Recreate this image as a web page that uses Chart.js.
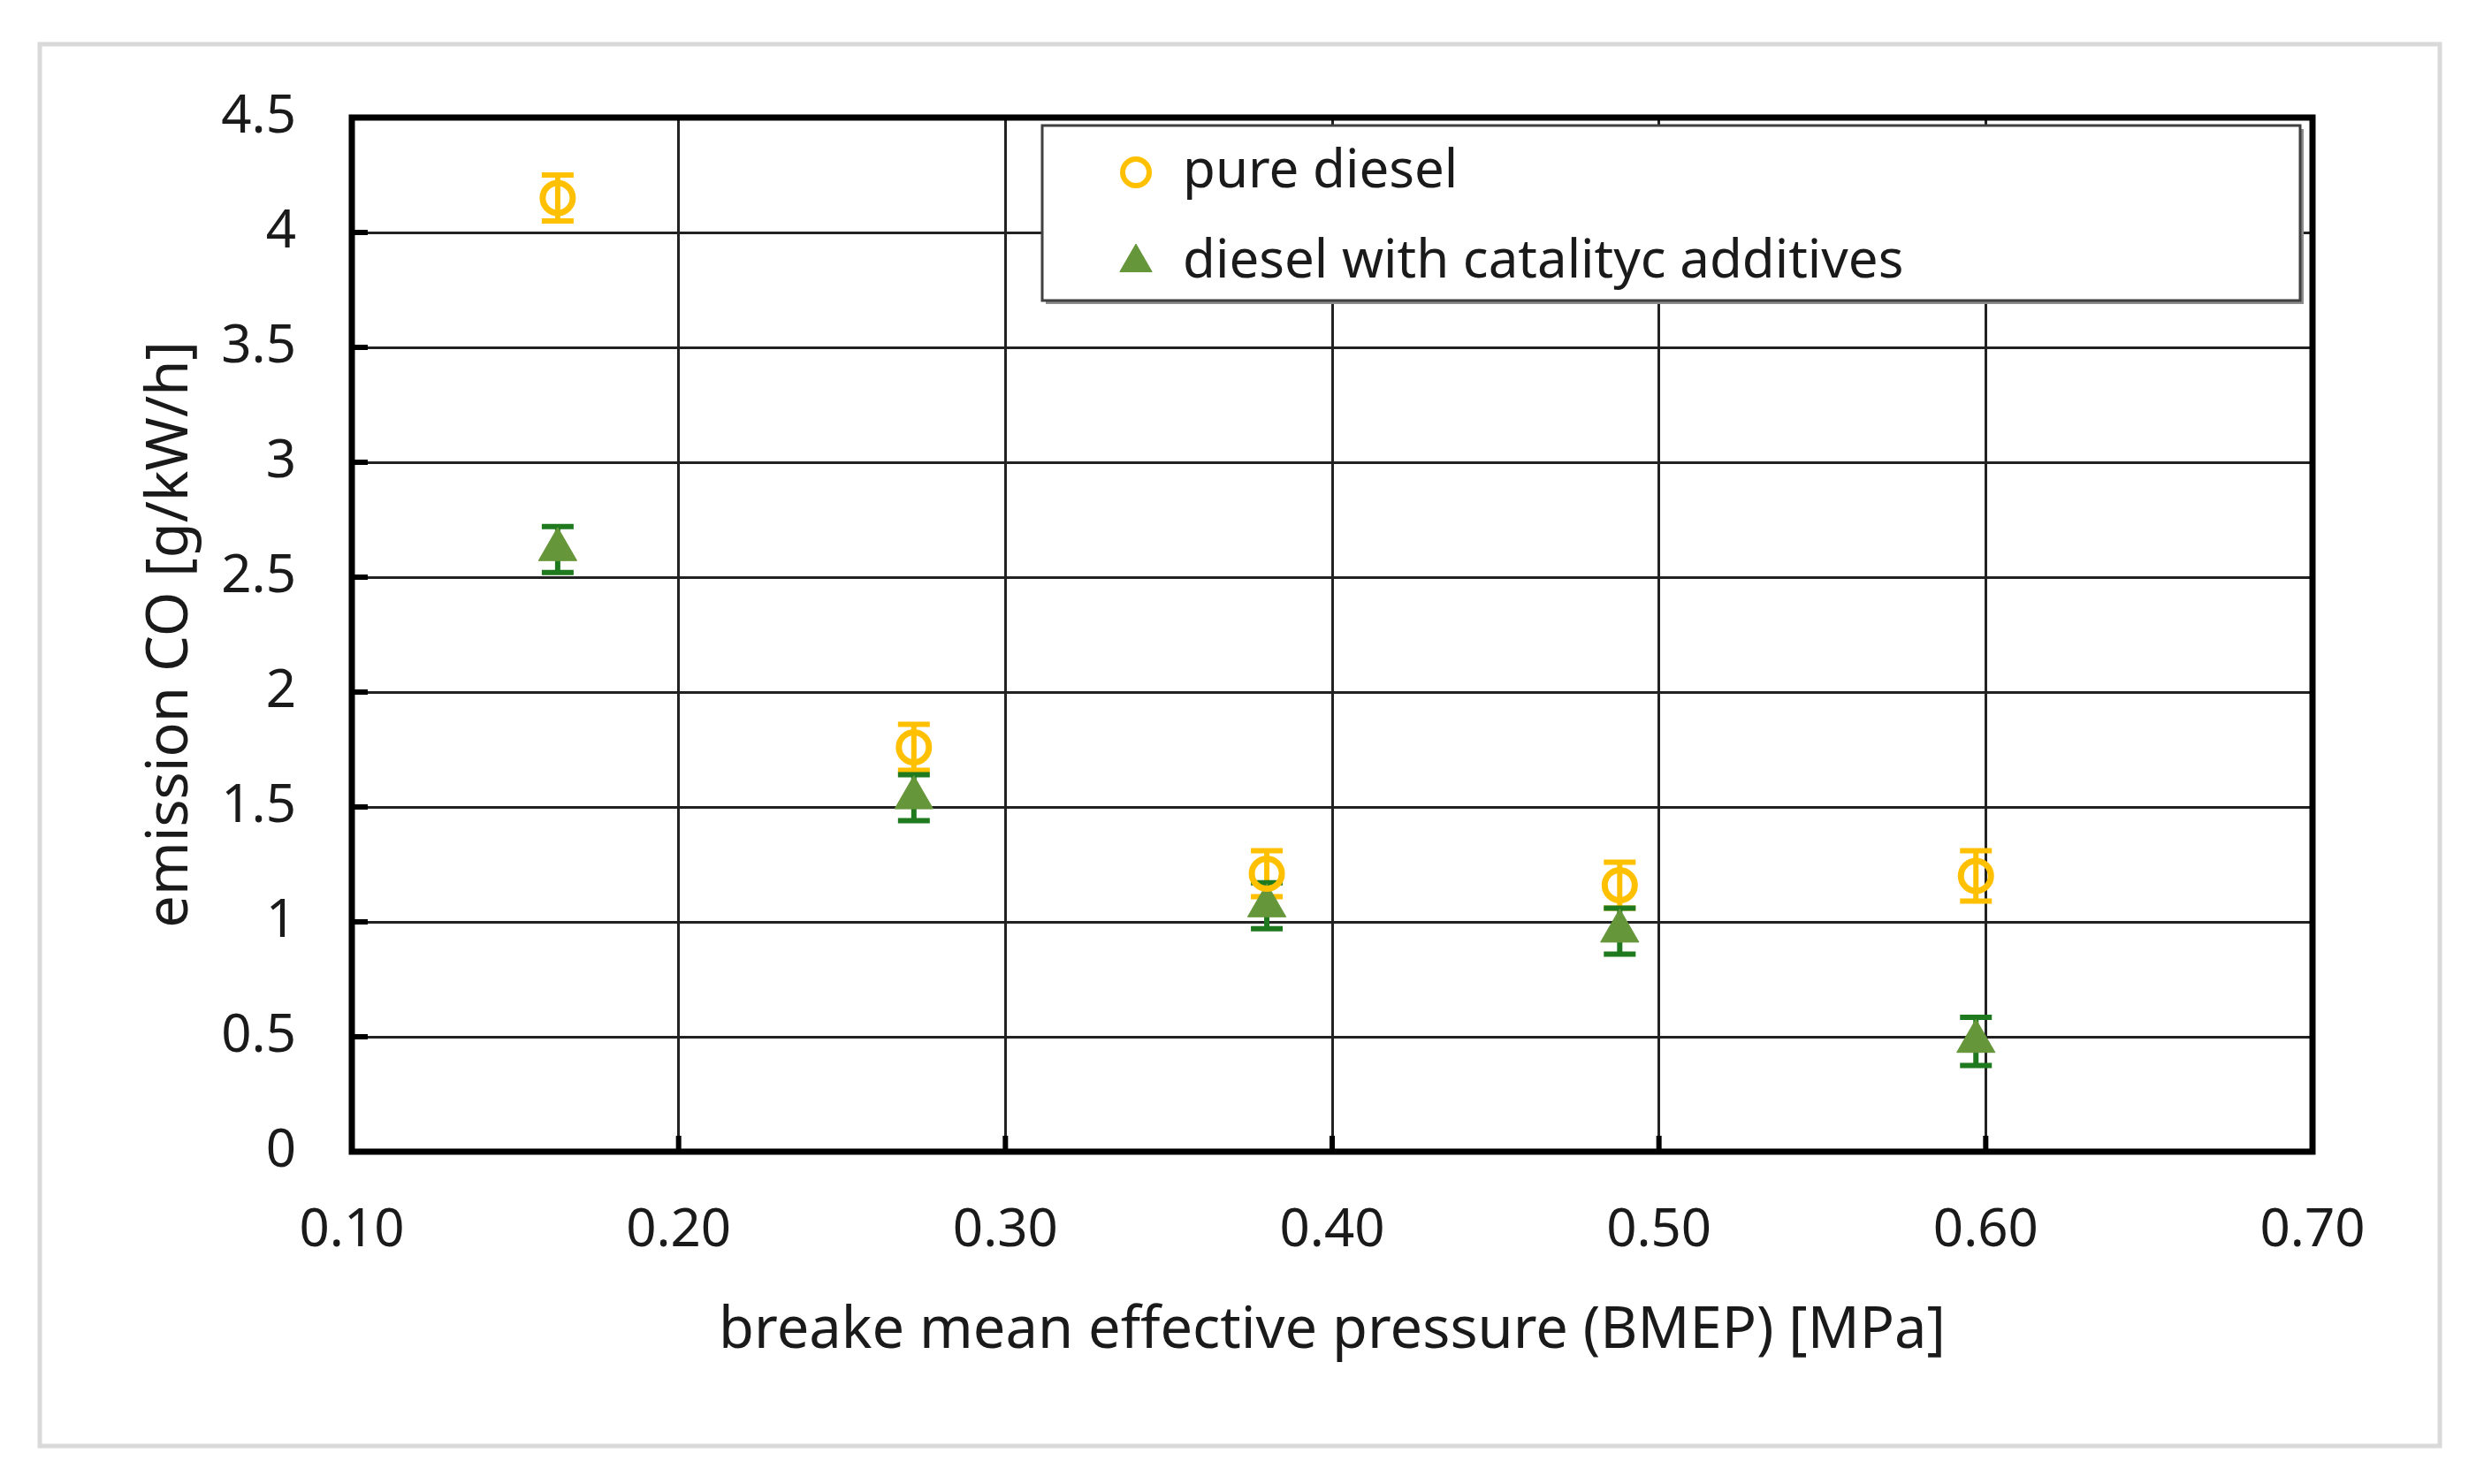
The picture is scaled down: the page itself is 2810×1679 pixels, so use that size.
<!DOCTYPE html>
<html>
<head>
<meta charset="utf-8">
<title>emission CO vs BMEP</title>
<script src="https://cdn.jsdelivr.net/npm/chart.js@4.4.1/dist/chart.umd.min.js"></script>
<style>
  html, body { margin: 0; padding: 0; background: #fff; }
  #wrap { position: relative; width: 2810px; height: 1679px; }
</style>
</head>
<body>
<div id="wrap"><canvas id="chart" width="2810" height="1679"></canvas></div>
<script>
// values
const bmep = [0.163, 0.272, 0.380, 0.488, 0.597];
const pureDiesel = [4.15, 1.76, 1.21, 1.16, 1.20];
const pureDieselErr = [0.10, 0.10, 0.10, 0.10, 0.11];
const withAdditives = [2.62, 1.54, 1.07, 0.96, 0.48];
const withAdditivesErr = [0.10, 0.10, 0.10, 0.10, 0.105];

const seriesLabels = ['pure diesel', 'diesel with catalityc additives'];
const xTitle = 'breake mean effective pressure (BMEP) [MPa]';
const yTitle = 'emission CO [g/kW/h]';

const FONT = '"Noto Sans", "Open Sans", sans-serif';
const TEXT = '#1a1a1a';
const YELLOW = '#FFC000';
const GREEN = '#66963A';
const GREEN_DARK = '#1F7A1F';

const toPoints = (xs, ys) => xs.map((x, i) => ({ x, y: ys[i] }));

/**
 * light grey frame round the whole figure
 */
const framePlugin = {
  id: 'frame',
  beforeDraw (chart) {
    const { ctx } = chart;
    ctx.save();
    ctx.strokeStyle = '#d9d9d9';
    ctx.lineWidth = 5;
    ctx.strokeRect(45, 50, 2715, 1586);
    ctx.restore();
  }
};

/**
 * vertical error bars, drawn under the markers
 */
const errorBarPlugin = {
  id: 'errorBars',
  beforeDatasetsDraw (chart) {
    const { ctx } = chart;
    const yScale = chart.scales.y;
    chart.data.datasets.forEach((ds, di) => {
      const meta = chart.getDatasetMeta(di);
      ctx.save();
      ctx.strokeStyle = ds.errorColor;
      ctx.lineWidth = 6;
      meta.data.forEach((el, i) => {
        const v = ds.data[i].y;
        const e = ds.errors[i];
        const top = yScale.getPixelForValue(v + e);
        const bot = yScale.getPixelForValue(v - e);
        ctx.beginPath();
        ctx.moveTo(el.x, top);
        ctx.lineTo(el.x, bot);
        ctx.moveTo(el.x - 18, top);
        ctx.lineTo(el.x + 18, top);
        ctx.moveTo(el.x - 18, bot);
        ctx.lineTo(el.x + 18, bot);
        ctx.stroke();
      });
      ctx.restore();
    });
  }
};

/**
 * heavy plot border plus the small inner tick stubs
 */
const plotBorderPlugin = {
  id: 'plotBorder',
  afterDatasetsDraw (chart) {
    const { ctx, chartArea: a, scales } = chart;
    ctx.save();
    ctx.strokeStyle = '#000';
    ctx.lineWidth = 6;
    scales.y.ticks.forEach(t => {
      const py = scales.y.getPixelForValue(t.value);
      ctx.beginPath();
      ctx.moveTo(a.left, py);
      ctx.lineTo(a.left + 18, py);
      ctx.stroke();
    });
    scales.x.ticks.forEach(t => {
      const px = scales.x.getPixelForValue(t.value);
      ctx.beginPath();
      ctx.moveTo(px, a.bottom);
      ctx.lineTo(px, a.bottom - 18);
      ctx.stroke();
    });
    ctx.lineWidth = 7;
    ctx.strokeRect(a.left, a.top, a.right - a.left, a.bottom - a.top);
    ctx.restore();
  }
};

/**
 * boxed legend in the upper right of the plot
 */
const legendBoxPlugin = {
  id: 'legendBox',
  afterDraw (chart) {
    const { ctx } = chart;
    const box = { x: 1179, y: 142, w: 1423, h: 198 };
    ctx.save();
    ctx.fillStyle = '#8c8c8c';
    ctx.fillRect(box.x + 4, box.y + 4, box.w, box.h);
    ctx.fillStyle = '#fff';
    ctx.fillRect(box.x, box.y, box.w, box.h);
    ctx.strokeStyle = '#404040';
    ctx.lineWidth = 3;
    ctx.strokeRect(box.x, box.y, box.w, box.h);

    const rows = [195, 297];
    const markers = [
      { pointStyle: 'circle', radius: 15, borderWidth: 6, fill: 'rgba(0,0,0,0)', stroke: YELLOW },
      { pointStyle: 'triangle', radius: 21, borderWidth: 1, fill: GREEN, stroke: GREEN }
    ];
    chart.data.datasets.forEach((ds, i) => {
      const m = markers[i];
      ctx.fillStyle = m.fill;
      ctx.strokeStyle = m.stroke;
      ctx.lineWidth = m.borderWidth;
      Chart.helpers.drawPoint(ctx, { pointStyle: m.pointStyle, radius: m.radius, rotation: 0, borderWidth: m.borderWidth }, 1285, rows[i]);
      ctx.fillStyle = TEXT;
      ctx.font = '60px ' + FONT;
      ctx.textBaseline = 'middle';
      ctx.textAlign = 'left';
      ctx.fillText(ds.label, 1338, rows[i]);
    });
    ctx.restore();
  }
};

const chart = new Chart(document.getElementById('chart'), {
  type: 'scatter',
  data: {
    datasets: [
      {
        label: seriesLabels[0],
        data: toPoints(bmep, pureDiesel),
        errors: pureDieselErr,
        errorColor: YELLOW,
        pointStyle: 'circle',
        pointRadius: 17,
        borderWidth: 7,
        borderColor: YELLOW,
        backgroundColor: 'rgba(0,0,0,0)'
      },
      {
        label: seriesLabels[1],
        data: toPoints(bmep, withAdditives),
        errors: withAdditivesErr,
        errorColor: GREEN_DARK,
        pointStyle: 'triangle',
        pointRadius: 25,
        borderWidth: 1,
        borderColor: GREEN,
        backgroundColor: GREEN
      }
    ]
  },
  options: {
    responsive: false,
    animation: false,
    events: [],
    devicePixelRatio: 1,
    layout: { padding: { top: 133, right: 194, left: 0, bottom: 0 } },
    plugins: {
      legend: { display: false },
      tooltip: { enabled: false }
    },
    scales: {
      x: {
        type: 'linear',
        min: 0.1,
        max: 0.7,
        afterFit: s => { s.height = 376; },
        ticks: {
          stepSize: 0.1,
          padding: 54,
          color: TEXT,
          font: { family: FONT, size: 60 },
          callback: v => v.toFixed(2)
        },
        grid: { color: '#222', lineWidth: 3, drawTicks: false },
        border: { display: false },
        title: {
          display: true,
          text: xTitle,
          color: TEXT,
          font: { family: FONT, size: 65 },
          padding: { top: 0, bottom: 134 }
        }
      },
      y: {
        min: 0,
        max: 4.5,
        afterFit: s => { s.width = 398; },
        ticks: {
          stepSize: 0.5,
          padding: 63,
          color: TEXT,
          font: { family: FONT, size: 60 },
          callback: v => String(+v.toFixed(1))
        },
        grid: { color: '#222', lineWidth: 3, drawTicks: false },
        border: { display: false },
        title: {
          display: true,
          text: yTitle,
          color: TEXT,
          font: { family: FONT, size: 65 },
          padding: { top: 154, bottom: 0 }
        }
      }
    }
  },
  plugins: [framePlugin, errorBarPlugin, plotBorderPlugin, legendBoxPlugin]
});
</script>
</body>
</html>
